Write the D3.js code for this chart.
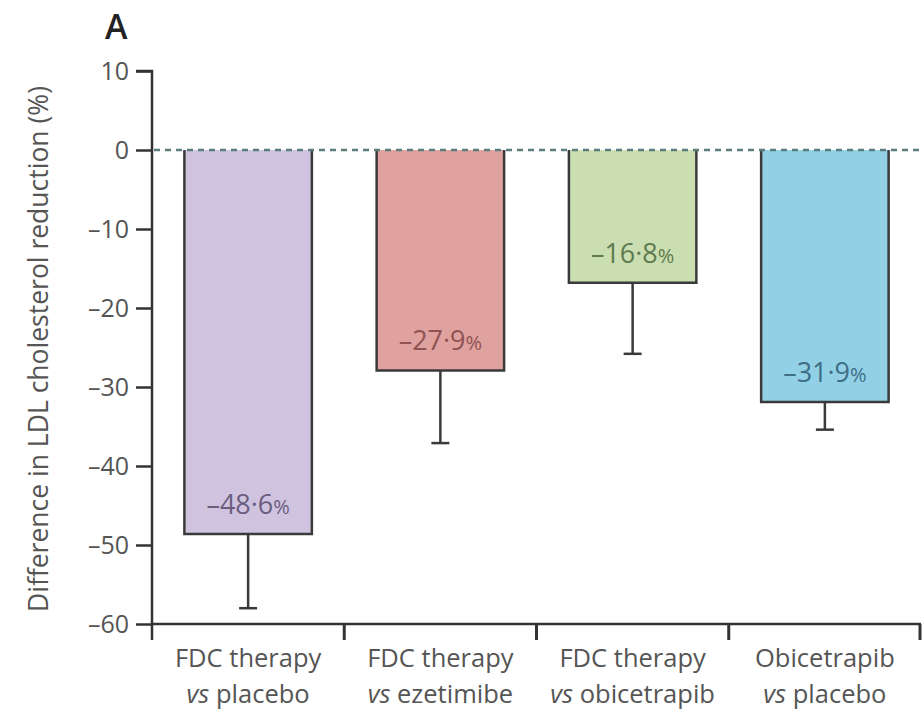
<!DOCTYPE html>
<html>
<head>
<meta charset="utf-8">
<script src="https://cdn.jsdelivr.net/npm/d3@7"></script>
<style>
  html, body { margin: 0; padding: 0; background: #fff; }
  svg { display: block; }
  text { font-family: "Open Sans", "Noto Sans", sans-serif; }
</style>
</head>
<body>
<svg id="chart" width="922" height="716"></svg>
<script>
// Comparison groups (two-line category labels) and results
const categories = ["FDC therapy vs placebo", "FDC therapy vs ezetimibe", "FDC therapy vs obicetrapib", "Obicetrapib vs placebo"];
const labelLine1 = ["FDC therapy", "FDC therapy", "FDC therapy", "Obicetrapib"];
const labelLine2 = ["placebo", "ezetimibe", "obicetrapib", "placebo"];
const values = [-48.6, -27.9, -16.8, -31.9];          // difference in LDL cholesterol reduction, %
const lowerCI = [-58.0, -37.1, -25.8, -35.4];          // lower error bound, %
const yTicks = [10, 0, -10, -20, -30, -40, -50, -60];
const fills = ["#cfc3e0", "#e0a29f", "#cbdeb2", "#92d0e6"];
const textColours = ["#6b5d7e", "#8f5353", "#5d7a4c", "#3f6f86"];

const svg = d3.select("#chart");
const plotLeft = 152, plotRight = 921, plotTop = 71, plotBottom = 624;

const x = d3.scaleBand().domain(categories).range([plotLeft, plotRight]).padding(0);
const y = d3.scaleLinear().domain([-60, 10]).range([plotBottom, plotTop]);

const fmt = v => "\u2013" + Math.abs(v).toFixed(1).replace(".", "\u00b7");
const fmtTick = v => (v < 0 ? "\u2013" : "") + Math.abs(v);

const axisColour = "#333";
const textGrey = "#555";

// Y axis
const yAxis = svg.append("g").attr("transform", `translate(${plotLeft},0)`)
  .call(d3.axisLeft(y).tickValues(yTicks).tickFormat(fmtTick).tickSize(16).tickPadding(7));
yAxis.select(".domain").attr("stroke", axisColour).attr("stroke-width", 2.5)
  .attr("d", `M-16,${y(10)}H0V${plotBottom + 16}`);
yAxis.selectAll(".tick line").attr("stroke", axisColour).attr("stroke-width", 2.5);
yAxis.selectAll(".tick text").attr("fill", textGrey).attr("font-size", 25)
  .attr("font-family", "'Open Sans', sans-serif");

// Y axis title
svg.append("text")
  .attr("transform", `translate(48,349) rotate(-90)`)
  .attr("text-anchor", "middle")
  .attr("fill", textGrey).attr("font-size", 26.5)
  .text("Difference in LDL cholesterol reduction (%)");

// X axis: baseline with ticks at group boundaries
const xAxis = svg.append("g").attr("transform", `translate(0,${plotBottom})`);
xAxis.append("line").attr("x1", plotLeft).attr("x2", plotRight).attr("stroke", axisColour).attr("stroke-width", 2.5);
const bounds = categories.map(c => x(c)).concat([x(categories[categories.length - 1]) + x.bandwidth()]);
xAxis.selectAll(".bt").data(bounds.slice(1)).join("line")
  .attr("x1", d => Math.min(d, plotRight - 1)).attr("x2", d => Math.min(d, plotRight - 1))
  .attr("y1", 0).attr("y2", 16).attr("stroke", axisColour).attr("stroke-width", 3);

// Category labels
const lab = svg.append("g").selectAll("text").data(categories).join("text")
  .attr("x", d => x(d) + x.bandwidth() / 2)
  .attr("text-anchor", "middle").attr("fill", textGrey).attr("font-size", 25.5);
lab.append("tspan").attr("x", d => x(d) + x.bandwidth() / 2).attr("y", 667)
  .text((d, i) => labelLine1[i]);
const l2 = lab.append("tspan").attr("x", d => x(d) + x.bandwidth() / 2).attr("y", 703);
l2.append("tspan").attr("font-style", "italic").text("vs ");
l2.append("tspan").text((d, i) => labelLine2[i]);

// Bars
const barW = x.bandwidth() * 0.663;
const bx = c => x(c) + (x.bandwidth() - barW) / 2;
const bars = svg.append("g").selectAll("g").data(categories).join("g");
bars.append("rect")
  .attr("x", d => bx(d)).attr("y", y(0))
  .attr("width", barW).attr("height", (d, i) => y(values[i]) - y(0))
  .attr("fill", (d, i) => fills[i]);
bars.append("path")
  .attr("d", (d, i) => `M${bx(d)},${y(0)}V${y(values[i])}H${bx(d) + barW}V${y(0)}`)
  .attr("fill", "none").attr("stroke", "#3a3a3a").attr("stroke-width", 2.5);

// Error bars (lower bound)
bars.append("line")
  .attr("x1", d => x(d) + x.bandwidth() / 2).attr("x2", d => x(d) + x.bandwidth() / 2)
  .attr("y1", (d, i) => y(values[i])).attr("y2", (d, i) => y(lowerCI[i]))
  .attr("stroke", "#3a3a3a").attr("stroke-width", 2.5);
bars.append("line")
  .attr("x1", d => x(d) + x.bandwidth() / 2 - 9).attr("x2", d => x(d) + x.bandwidth() / 2 + 9)
  .attr("y1", (d, i) => y(lowerCI[i])).attr("y2", (d, i) => y(lowerCI[i]))
  .attr("stroke", "#3a3a3a").attr("stroke-width", 2.5);

// Value labels inside bars
const vl = bars.append("text")
  .attr("x", d => x(d) + x.bandwidth() / 2)
  .attr("y", (d, i) => y(values[i]) - 20)
  .attr("text-anchor", "middle").attr("font-size", 27)
  .attr("fill", (d, i) => textColours[i]);
vl.append("tspan").text((d, i) => fmt(values[i]));
vl.append("tspan").attr("font-size", 20).text("%");

// Zero reference line
svg.append("line")
  .attr("x1", plotLeft + 2).attr("x2", plotRight + 1).attr("y1", y(0)).attr("y2", y(0))
  .attr("stroke", "#5b7d7d").attr("stroke-width", 2.5).attr("stroke-dasharray", "6,5");

// Panel letter
svg.append("text").attr("x", 105).attr("y", 39).attr("font-size", 34)
  .attr("font-weight", 600).attr("fill", "#222").text("A");
</script>
</body>
</html>
